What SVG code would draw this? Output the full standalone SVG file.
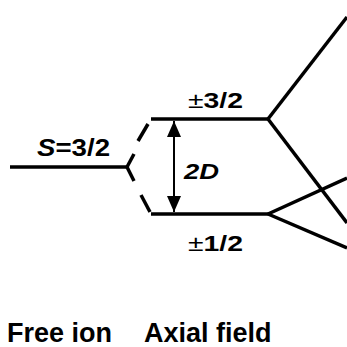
<svg xmlns="http://www.w3.org/2000/svg" width="347" height="347" viewBox="0 0 347 347">
<style>
.lvl{stroke:#000;stroke-width:3.5;fill:none}
.t{font-family:"Liberation Sans",Arial,sans-serif;fill:#000}
.b{font-weight:bold}
</style>
<rect width="347" height="347" fill="#fff"/>
<g id="connectors">
<line class="lvl" x1="127" y1="167" x2="134" y2="154"/>
<line class="lvl" x1="138" y1="141" x2="148" y2="124"/>
<line class="lvl" x1="127" y1="167" x2="134" y2="181"/>
<line class="lvl" x1="141" y1="195" x2="150" y2="212"/>
<line class="lvl" x1="268" y1="119" x2="347" y2="17"/>
<line class="lvl" x1="268" y1="119" x2="347" y2="223"/>
<line class="lvl" x1="268" y1="214" x2="347" y2="178"/>
<line class="lvl" x1="268" y1="214" x2="347" y2="248"/>
<path d="M174,121 L174,212" stroke="#000" stroke-width="2" fill="none"/>
<path d="M174,121 l-7,16 h14 Z" fill="#000"/>
<path d="M174,212 l-7,-16 h14 Z" fill="#000"/>
</g>
<g id="free-ion">
<line class="lvl" x1="10" y1="167" x2="127" y2="167"/>
<text class="t b" x="37" y="156" font-size="23" textLength="73" lengthAdjust="spacingAndGlyphs"><tspan font-style="italic">S</tspan>=3/2</text>
</g>
<g id="level-32">
<line class="lvl" x1="151" y1="119" x2="268" y2="119"/>
<text class="t" x="188" y="108" font-size="22" textLength="55" lengthAdjust="spacingAndGlyphs">±<tspan class="b">3/2</tspan></text>
</g>
<g id="level-12">
<line class="lvl" x1="151" y1="214" x2="268" y2="214"/>
<text class="t" x="188" y="251" font-size="22" textLength="55" lengthAdjust="spacingAndGlyphs">±<tspan class="b">1/2</tspan></text>
</g>
<text class="t" x="184" y="179" font-size="22" font-style="italic" font-weight="600" textLength="35" lengthAdjust="spacingAndGlyphs">2D</text>
<text class="t b" x="7" y="342" font-size="27">Free ion</text>
<text class="t b" x="144" y="342" font-size="27">Axial field</text>
</svg>
